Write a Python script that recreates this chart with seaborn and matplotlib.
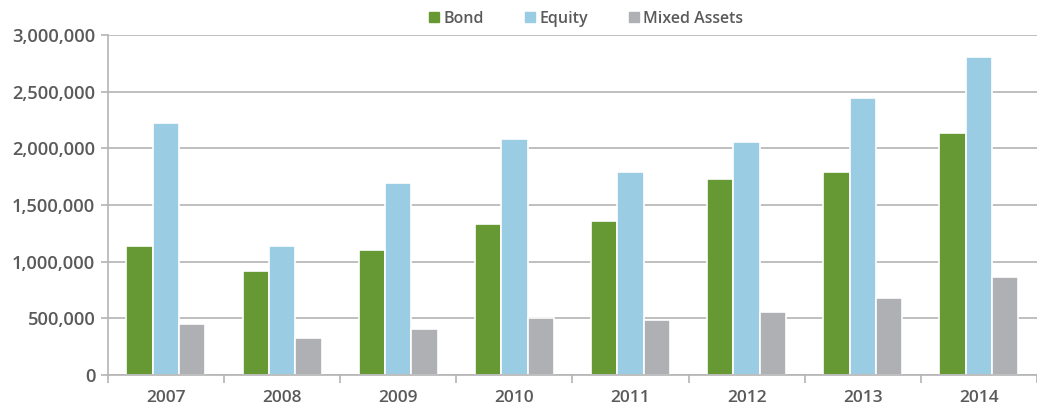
import matplotlib
matplotlib.use('Agg')
import matplotlib.pyplot as plt
from matplotlib.ticker import FuncFormatter
import seaborn as sns
import pandas as pd
import numpy as np

years = ['2007', '2008', '2009', '2010', '2011', '2012', '2013', '2014']
bond = [1138000, 915000, 1103000, 1330000, 1362000, 1727000, 1789000, 2133000]
equity = [2224000, 1138000, 1697000, 2083000, 1789000, 2058000, 2447000, 2804000]
mixed_assets = [453000, 324000, 406000, 500000, 485000, 559000, 677000, 865000]

series_names = ['Bond', 'Equity', 'Mixed Assets']
colors = ['#669933', '#9ACDE4', '#AFB0B3']
text_color = '#5a5a5a'
line_color = '#b4b4b4'

df = pd.DataFrame({'Year': years, 'Bond': bond, 'Equity': equity, 'Mixed Assets': mixed_assets})
df = df.melt(id_vars='Year', var_name='Series', value_name='Value')

sns.set_theme(style='white')
plt.rcParams['font.family'] = ['Open Sans', 'DejaVu Sans']

fig = plt.figure(figsize=(10.37, 4.15), dpi=100)
ax = fig.add_axes([0.104, 0.0964, 0.896, 0.8193])

sns.barplot(data=df, x='Year', y='Value', hue='Series', hue_order=series_names,
            palette=colors, width=0.68, edgecolor='white', linewidth=1.2,
            saturation=1, ax=ax, legend=False)

ax.set_ylim(0, 3000000)
ax.set_yticks(np.arange(0, 3000001, 500000))
ax.yaxis.set_major_formatter(FuncFormatter(lambda v, p: f'{int(v):,}'))
ax.set_xlim(-0.5, 7.45)
ax.set_xticks(np.arange(-0.5, len(years)), minor=True)

ax.grid(axis='y', color=line_color, linewidth=1.2)
ax.set_axisbelow(True)
for side in ['top', 'right']:
    ax.spines[side].set_visible(False)
for side in ['left', 'bottom']:
    ax.spines[side].set_color(line_color)
    ax.spines[side].set_linewidth(1.2)

ax.tick_params(axis='y', which='major', length=5, color=line_color, width=1.2,
               labelsize=13.2, labelcolor=text_color, pad=4, left=True)
ax.tick_params(axis='x', which='major', length=0, labelsize=12.5, labelcolor=text_color, pad=11)
ax.tick_params(axis='x', which='minor', length=6, color=line_color, width=1.2, bottom=True)
for lbl in ax.get_xticklabels() + ax.get_yticklabels():
    lbl.set_fontweight('semibold')

ax.set_xlabel('')
ax.set_ylabel('')

handles = [plt.Line2D([], [], marker='s', linestyle='', markersize=7, color=c) for c in colors]
leg = fig.legend(handles, series_names, loc='center', bbox_to_anchor=(0.565, 0.955), ncol=3,
                 frameon=False, fontsize=11.5, handletextpad=0.25, columnspacing=2.5,
                 handlelength=0.7)
for t in leg.get_texts():
    t.set_color(text_color)
    t.set_fontweight('semibold')

fig.savefig('out.png', dpi=100)
